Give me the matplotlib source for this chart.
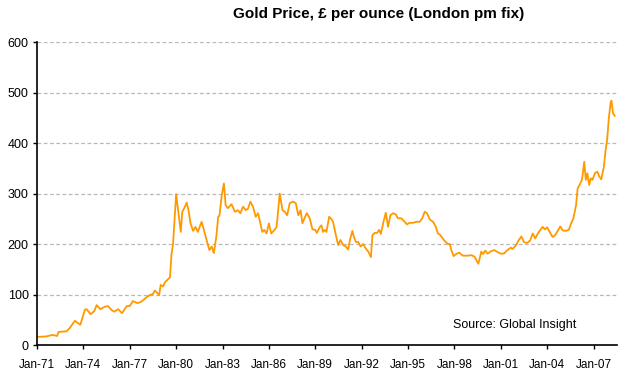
"""Gold price, £ per ounce (London pm fix), 1971-2008 - redrawn from the reference chart."""

import matplotlib
matplotlib.use("Agg")
import matplotlib.pyplot as plt

# decimal year -> price
YEARS = [
    1971.0, 1971.6, 1972.0, 1972.3, 1972.4, 1972.9, 1973.1, 1973.45, 1973.8, 1974.1,
    1974.2, 1974.47, 1974.7, 1974.86, 1975.1, 1975.4, 1975.6, 1975.83, 1976.0, 1976.25,
    1976.5, 1976.8, 1977.0, 1977.2, 1977.5, 1977.7, 1977.87, 1978.1, 1978.3, 1978.5,
    1978.63, 1978.9, 1979.0, 1979.15, 1979.27, 1979.5, 1979.6, 1979.7, 1979.8, 1980.0,
    1980.15, 1980.3, 1980.4, 1980.57, 1980.68, 1980.8, 1980.93, 1981.1, 1981.25, 1981.4,
    1981.65, 1981.85, 1981.97, 1982.15, 1982.3, 1982.44, 1982.6, 1982.72, 1982.8, 1982.94,
    1983.09, 1983.2, 1983.34, 1983.58, 1983.8, 1984.0, 1984.15, 1984.33, 1984.5, 1984.65,
    1984.8, 1984.97, 1985.15, 1985.3, 1985.45, 1985.57, 1985.7, 1985.85, 1986.0, 1986.15,
    1986.37, 1986.5, 1986.7, 1986.88, 1987.03, 1987.18, 1987.35, 1987.56, 1987.74, 1987.9,
    1988.05, 1988.17, 1988.3, 1988.45, 1988.63, 1988.82, 1989.0, 1989.1, 1989.3, 1989.4,
    1989.5, 1989.6, 1989.72, 1989.9, 1990.05, 1990.15, 1990.33, 1990.48, 1990.63, 1990.8,
    1990.98, 1991.13, 1991.24, 1991.4, 1991.5, 1991.63, 1991.78, 1991.93, 1992.1, 1992.27,
    1992.43, 1992.6, 1992.7, 1992.85, 1993.0, 1993.13, 1993.24, 1993.39, 1993.56, 1993.71,
    1993.86, 1994.03, 1994.2, 1994.35, 1994.57, 1994.78, 1994.93, 1995.1, 1995.32, 1995.54,
    1995.75, 1995.92, 1996.08, 1996.23, 1996.4, 1996.62, 1996.8, 1996.93, 1997.08, 1997.25,
    1997.43, 1997.6, 1997.7, 1997.8, 1997.95, 1998.1, 1998.3, 1998.55, 1998.9, 1999.1,
    1999.3, 1999.55, 1999.74, 1999.85, 2000.0, 2000.15, 2000.37, 2000.58, 2000.8, 2001.0,
    2001.2, 2001.43, 2001.65, 2001.75, 2001.97, 2002.15, 2002.33, 2002.5, 2002.7, 2002.9,
    2003.07, 2003.23, 2003.4, 2003.7, 2003.85, 2004.0, 2004.2, 2004.35, 2004.5, 2004.7,
    2004.85, 2005.0, 2005.2, 2005.4, 2005.55, 2005.7, 2005.87, 2005.97, 2006.1, 2006.25,
    2006.4, 2006.5, 2006.6, 2006.72, 2006.82, 2006.93, 2007.1, 2007.25, 2007.35, 2007.5,
    2007.67, 2007.78, 2007.88, 2007.99, 2008.1, 2008.16, 2008.26, 2008.37,
]
PRICES = [
    16, 17, 20, 18, 26, 27, 33, 48, 40, 70,
    71, 61, 67, 79, 71, 76, 77, 69, 66, 71,
    63, 77, 77, 87, 83, 85, 89, 95, 99, 101,
    108, 99, 119, 116, 124, 131, 134, 180, 200, 299,
    261, 224, 264, 274, 282, 267, 241, 226, 234, 224,
    244, 221, 208, 188, 195, 182, 215, 254, 256, 294,
    320, 277, 271, 279, 264, 267, 261, 274, 267, 270,
    284, 274, 254, 261, 241, 224, 228, 221, 241, 221,
    228, 234, 300, 267, 264, 257, 281, 284, 281, 257,
    267, 241, 251, 261, 252, 229, 228, 222, 234, 237,
    224, 228, 224, 254, 249, 244, 218, 198, 208, 198,
    195, 189, 208, 226, 214, 204, 204, 195, 200, 191,
    185, 174, 218, 222, 222, 228, 220, 241, 262, 234,
    257, 261, 259, 251, 251, 244, 239, 242, 242, 244,
    244, 251, 264, 261, 249, 244, 234, 221, 218, 211,
    204, 200, 200, 188, 176, 180, 183, 177, 177, 178,
    175, 161, 185, 180, 187, 181, 186, 188, 184, 181,
    181, 188, 193, 190, 197, 207, 215, 204, 202, 207,
    221, 211, 221, 234, 229, 233, 222, 214, 217, 227,
    235, 227, 226, 228, 241, 251, 277, 310, 317, 327,
    363, 327, 340, 317, 330, 327, 341, 343, 335, 328,
    353, 386, 406, 449, 479, 484, 459, 454,
]

TICK_YEARS = list(range(1971, 2008, 3))
TICK_LABELS = [f"Jan-{y % 100:02d}" for y in TICK_YEARS]
Y_TICKS = [0, 100, 200, 300, 400, 500, 600]

plt.rcParams["font.family"] = ["Liberation Sans", "DejaVu Sans"]

fig = plt.figure(figsize=(6.2, 3.74), dpi=100)
ax = fig.add_axes([0.0597, 0.0775, 0.935, 0.810])

ax.plot(YEARS, PRICES, color="#FF9900", lw=1.3, solid_joinstyle="round")

ax.set_xlim(1971.0, 2008.5)
ax.set_ylim(0, 600)
ax.set_xticks(TICK_YEARS)
ax.set_xticklabels(TICK_LABELS)
ax.set_yticks(Y_TICKS)
ax.tick_params(axis="both", direction="out", length=3, width=1, colors="black")
ax.tick_params(axis="x", labelsize=8.5, pad=7)
ax.tick_params(axis="y", labelsize=9, pad=3)

ax.grid(axis="y", color="#b8b8b8", ls=(0, (3, 2)), lw=0.9)
ax.set_axisbelow(True)
for side in ("top", "right"):
    ax.spines[side].set_visible(False)
for side in ("left", "bottom"):
    ax.spines[side].set_linewidth(1.2)

ax.text(0.931, 0.066, "Source: Global Insight", transform=ax.transAxes,
        ha="right", va="center", fontsize=9)
fig.text(0.61, 0.962, "Gold Price, £ per ounce (London pm fix)",
         ha="center", va="center", fontsize=11, fontweight="bold")

fig.savefig("out.png", dpi=100)
